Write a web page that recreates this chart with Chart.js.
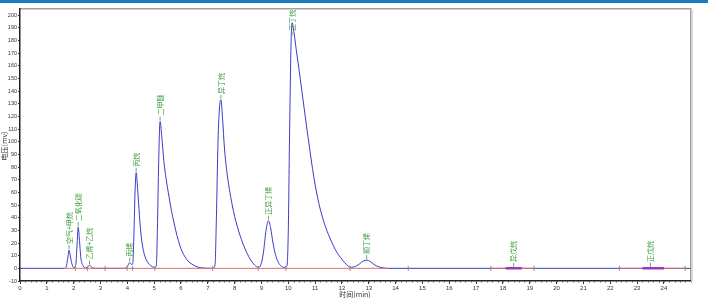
<!DOCTYPE html>
<html>
<head>
<meta charset="utf-8">
<script src="https://cdn.jsdelivr.net/npm/chart.js@4.4.1/dist/chart.umd.min.js"></script>
<style>
  html, body { margin: 0; padding: 0; background: #fff; }
  #wrap { width: 708px; height: 300px; }
</style>
</head>
<body>
<div id="wrap"><canvas id="gcChart" width="708" height="300"></canvas></div>
<script>
// Signal trace (time in min, voltage in mV)
const sigTime = [0, 1.65, 1.72, 1.78, 1.83, 1.88, 1.95, 2.02, 2.08, 2.13, 2.17, 2.21, 2.27, 2.35, 2.45, 2.53, 2.59, 2.66, 2.75, 2.85,
    3.9, 4.0, 4.09, 4.16, 4.2, 4.25, 4.29, 4.33, 4.38, 4.45, 4.52, 4.6, 4.7, 4.85, 5.0,
    5.08, 5.12, 5.17, 5.22, 5.28, 5.36, 5.45, 5.55, 5.65, 5.75, 5.85, 5.95, 6.05, 6.15, 6.3, 6.45, 6.6, 6.75,
    7.2, 7.27, 7.32, 7.38, 7.44, 7.49, 7.55, 7.62, 7.7, 7.8, 7.9, 8.0, 8.1, 8.2, 8.3, 8.45, 8.6, 8.75, 8.88,
    8.98, 9.07, 9.17, 9.26, 9.34, 9.43, 9.52, 9.62, 9.75, 9.88,
    9.95, 10.0, 10.05, 10.1, 10.14, 10.2, 10.3, 10.4, 10.5, 10.6, 10.7, 10.8, 10.9, 11.0, 11.1, 11.2, 11.3, 11.4,
    11.5, 11.6, 11.7, 11.8, 11.95, 12.1, 12.25, 12.35,
    12.5, 12.65, 12.8, 12.92, 13.05, 13.2, 13.4, 13.6, 13.7, 25];
const sigValue = [0, 0, 1, 8, 14.4, 9, 2.5, 0.5, 3, 20, 32.5, 24, 8, 2, 0.4, 1.2, 2.2, 1.2, 0.2, 0,
    0, 1.5, 4.5, 3, 3.5, 30, 62, 75.5, 64, 42, 25, 14, 7, 2.6, 0.8,
    2, 30, 85, 116, 105, 85, 70, 57, 45, 35, 26, 18.5, 13, 9, 5, 2.8, 1.2, 0.4,
    0, 3, 40, 100, 128, 133, 118, 95, 78, 63, 51, 41, 33, 26, 20, 12.5, 6.5, 2.5, 0.8,
    3, 12, 30, 37.5, 32, 20, 11, 5, 1.5, 0.8,
    2, 30, 110, 175, 194, 188, 172, 157, 141, 125, 109, 94, 79, 66, 55, 46, 38.5, 32,
    26.5, 21.5, 17, 13, 8.5, 4.5, 1.5, 0.8,
    1.5, 3.5, 5.8, 6.5, 5.5, 3, 1, 0.2, 0, 0];

// Peak names and apex positions
const peakNames = ['空气+甲烷', '二氧化碳', '乙烯+乙烷', '丙烯', '丙烷', '二甲醚', '异丁烷', '正异丁烯', '正丁烷', '顺丁烯', '异戊烷', '正戊烷'];
const peakTimes = [1.83, 2.17, 2.59, 4.09, 4.33, 5.22, 7.49, 9.26, 10.14, 12.92, 18.4, 23.5];
const peakHeights = [14.4, 32.5, 2.2, 4.5, 75.5, 116, 133, 37.5, 194, 6.5, 0.3, 0.3];

// Integration baselines (red) and small detected peaks (purple)
const baseStarts = [1.7, 17.55, 22.34];
const baseEnds = [13.7, 19.16, 24.79];
const smallStarts = [18.1, 23.2];
const smallEnds = [18.7, 24.0];
const markTimes = [2.06, 2.51, 3.17, 3.99, 4.2, 5.03, 7.18, 8.88, 9.91, 12.3, 14.47, 17.55, 19.16, 22.34, 24.79];

// Axis ticks
const xTicks = [0, 1, 2, 3, 4, 5, 6, 7, 8, 9, 10, 11, 12, 13, 14, 15, 16, 17, 18, 19, 20, 21, 22, 23, 24];
const yTicks = [-10, 0, 10, 20, 30, 40, 50, 60, 70, 80, 90, 100, 110, 120, 130, 140, 150, 160, 170, 180, 190, 200];

function segments(starts, ends) {
    const pts = [];
    starts.forEach((s, i) => {
        pts.push({ x: s, y: 0 }, { x: ends[i], y: 0 }, { x: ends[i], y: null });
    });
    return pts;
}

const frame = {
    id: 'frame',
    beforeDraw(chart) {
        const c = chart.ctx;
        const a = chart.chartArea;
        c.save();
        c.fillStyle = '#fff';
        c.fillRect(0, 0, chart.width, chart.height);
        c.fillStyle = '#1b7cbd';
        c.fillRect(0, 0, chart.width, 3);
        // top and right border
        c.strokeStyle = '#a0a0a0';
        c.lineWidth = 1.5;
        c.beginPath();
        c.moveTo(a.left, a.top);
        c.lineTo(a.right, a.top);
        c.lineTo(a.right, a.bottom);
        c.stroke();
        c.strokeStyle = '#d0d0d0';
        c.lineWidth = 1;
        c.beginPath();
        c.moveTo(a.right + 1.5, a.top + 1);
        c.lineTo(a.right + 1.5, a.bottom);
        c.stroke();
        c.restore();
    },
    afterDraw(chart) {
        const c = chart.ctx;
        const x = chart.scales.x, y = chart.scales.y;
        c.save();
        // minor ticks along the time axis
        c.strokeStyle = '#444';
        c.lineWidth = 0.6;
        for (let t = 0; t <= 25.001; t += 0.2) {
            const px = Math.round(x.getPixelForValue(t)) + 0.5;
            c.beginPath();
            c.moveTo(px, y.bottom);
            c.lineTo(px, y.bottom + 1.8);
            c.stroke();
        }
        // axis titles
        c.fillStyle = '#333';
        c.font = '7px "Noto Sans CJK SC", sans-serif';
        c.textAlign = 'center';
        c.textBaseline = 'middle';
        c.fillText('时间(min)', 355, 294);
        c.translate(4, 146);
        c.rotate(-Math.PI / 2);
        c.fillText('电压(mv)', 0, 0);
        c.restore();
    },
    afterDatasetsDraw(chart) {
        const c = chart.ctx;
        const a = chart.chartArea;
        const x = chart.scales.x, y = chart.scales.y;
        c.save();
        c.fillStyle = '#3a9a3a';
        c.strokeStyle = '#3a9a3a';
        c.lineWidth = 0.8;
        c.font = '7px "Noto Sans CJK SC", sans-serif';
        c.textAlign = 'left';
        c.textBaseline = 'middle';
        peakNames.forEach((name, i) => {
            const px = x.getPixelForValue(peakTimes[i]);
            let py = y.getPixelForValue(peakHeights[i]) - 1;
            const len = 5 + c.measureText(name).width;
            // keep labels of tall peaks inside the frame
            if (py - len < a.top + 1) py = a.top + 1 + len;
            c.save();
            c.translate(px, py);
            c.rotate(-Math.PI / 2);
            c.beginPath();
            c.moveTo(0, 0);
            c.lineTo(4, 0);
            c.stroke();
            c.fillText(name, 5, 0);
            c.restore();
        });
        c.restore();
    }
};

const ctx = document.getElementById('gcChart').getContext('2d');

new Chart(ctx, {
    type: 'line',
    data: {
        datasets: [
            {
                label: 'marks',
                type: 'scatter',
                data: markTimes.map(t => ({ x: t, y: 0 })),
                pointStyle: 'line',
                rotation: 90,
                pointRadius: 2.5,
                borderColor: '#888',
                borderWidth: 1,
                order: 0
            },
            {
                label: 'small',
                data: segments(smallStarts, smallEnds),
                borderColor: '#9b36c4',
                borderWidth: 2.5,
                pointRadius: 0,
                spanGaps: false,
                order: 1
            },
            {
                label: 'baseline',
                data: segments(baseStarts, baseEnds),
                borderColor: '#e06a6a',
                borderWidth: 1,
                pointRadius: 0,
                spanGaps: false,
                order: 2
            },
            {
                label: 'signal',
                data: sigTime.map((t, i) => ({ x: t, y: sigValue[i] })),
                borderColor: '#3b3bc6',
                borderWidth: 1,
                pointRadius: 0,
                cubicInterpolationMode: 'monotone',
                order: 3
            }
        ]
    },
    options: {
        responsive: false,
        animation: false,
        layout: { padding: { top: 8.7, right: 17.25, left: 0, bottom: 0 } },
        plugins: {
            legend: { display: false },
            tooltip: { enabled: false }
        },
        scales: {
            x: {
                type: 'linear',
                min: 0,
                max: 25,
                afterBuildTicks: s => { s.ticks = xTicks.map(v => ({ value: v })); },
                afterFit: s => { s.height = 19; },
                ticks: {
                    autoSkip: false,
                    maxRotation: 0,
                    padding: 1,
                    color: '#333',
                    font: { family: 'Liberation Sans', size: 6 }
                },
                grid: { drawOnChartArea: false, tickLength: 3, color: '#333' },
                border: { color: '#222', width: 1.5 }
            },
            y: {
                min: -10,
                max: 205,
                afterBuildTicks: s => { s.ticks = yTicks.map(v => ({ value: v })); },
                afterFit: s => { s.width = 20; },
                ticks: {
                    padding: 1,
                    color: '#333',
                    font: { family: 'Liberation Sans', size: 5.5 }
                },
                grid: { drawOnChartArea: false, tickLength: 2, color: '#333' },
                border: { color: '#222', width: 1.5 }
            }
        }
    },
    plugins: [frame]
});
</script>
</body>
</html>
